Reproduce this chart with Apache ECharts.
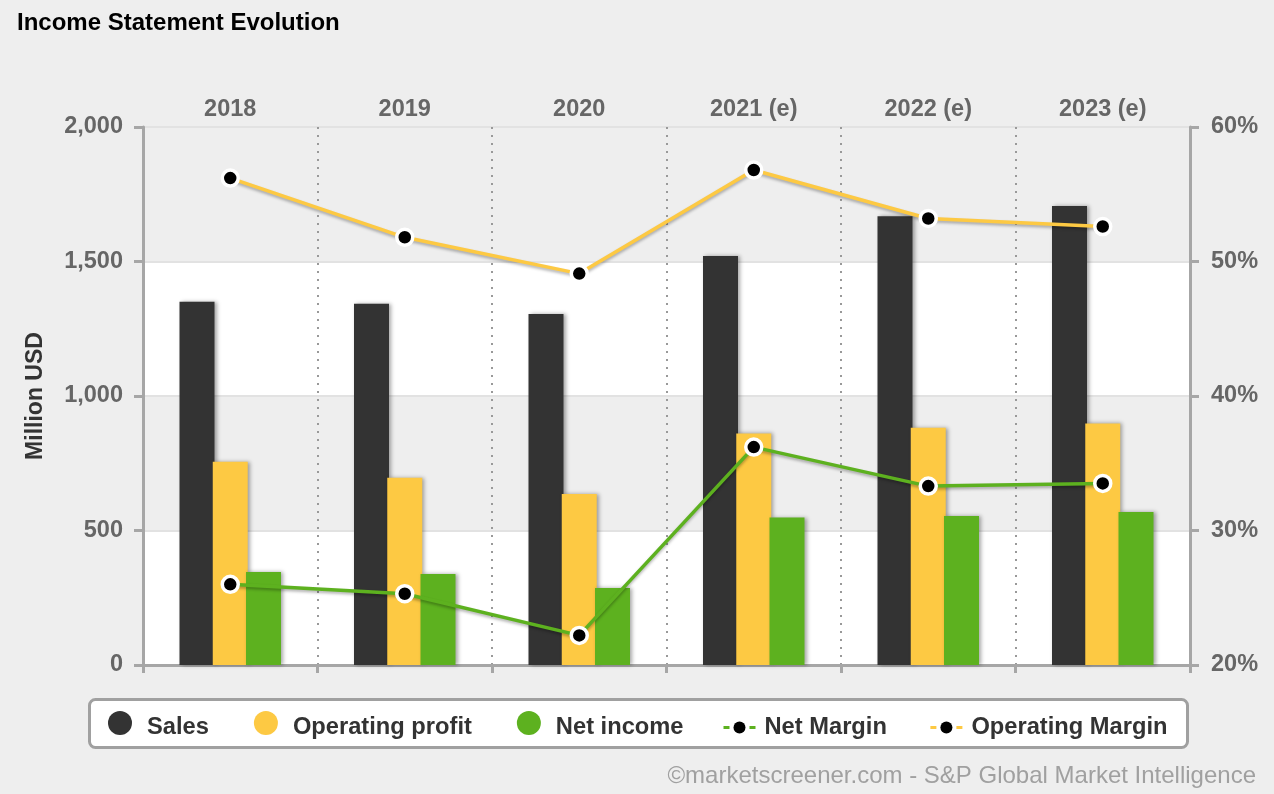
<!DOCTYPE html>
<html>
<head>
<meta charset="utf-8">
<script src="https://cdn.jsdelivr.net/npm/echarts@6/dist/echarts.min.js"></script>
<style>
html,body{margin:0;padding:0;background:#eeeeee;}
#c{width:1274px;height:794px;}
</style>
</head>
<body>
<div id="c"></div>
<script>
const categories = ['2018', '2019', '2020', '2021 (e)', '2022 (e)', '2023 (e)'];
const sales = [1350, 1343, 1305, 1520, 1668, 1706];
const operatingProfit = [756, 696, 636, 861, 882, 898];
const netIncome = [346, 338, 286, 548, 554, 569];
const netMargin = [26.0, 25.3, 22.2, 36.2, 33.3, 33.5];
const operatingMargin = [56.2, 51.8, 49.1, 56.8, 53.2, 52.6];
const leftTicks = { min: 0, max: 2000, interval: 500 };
const rightTicks = { min: 20, max: 60, interval: 10 };

const FONT = '"Liberation Sans", Arial, sans-serif';
const C_SALES = '#333333', C_OP = '#fdc943', C_NET = '#5db11f';
const barShadow = { shadowColor: 'rgba(0,0,0,0.35)', shadowBlur: 4, shadowOffsetX: 2, shadowOffsetY: 0 };
const legendText = { fontFamily: FONT, fontWeight: 'bold', fontSize: 23.7, color: '#333' };

const chart = echarts.init(document.getElementById('c'), null, { renderer: 'canvas' });
chart.setOption({
  backgroundColor: '#eeeeee',
  animation: false,
  title: {
    text: 'Income Statement Evolution', left: 12, top: 6,
    textStyle: { fontFamily: FONT, fontWeight: 'bold', fontSize: 24, color: '#000' }
  },
  grid: { left: 143, right: 84, top: 127, bottom: 129 },
  legend: [
    {
      left: 108, top: 711, padding: 0, itemGap: 45, itemWidth: 24, itemHeight: 24,
      formatter: '{t|{name}}',
      textStyle: Object.assign({
        rich: { t: Object.assign({ padding: [9, 0, 0, 10] }, legendText) }
      }, legendText),
      data: [
        { name: 'Sales', icon: 'circle' },
        { name: 'Operating profit', icon: 'circle' },
        { name: 'Net income', icon: 'circle' }
      ]
    },
    {
      left: 722, top: 715.5, padding: 0, itemGap: 42, itemWidth: 32, itemHeight: 15,
      textStyle: Object.assign({ padding: [0, 0, 0, 4] }, legendText),
      data: [
        { name: 'Net Margin', itemStyle: { borderWidth: 0, color: '#000' }, lineStyle: { type: [6, 20], width: 3 } },
        { name: 'Operating Margin', itemStyle: { borderWidth: 0, color: '#000' }, lineStyle: { type: [6, 20], width: 3 } }
      ]
    }
  ],
  xAxis: [
    {
      type: 'category', data: categories, position: 'top',
      axisLine: { show: true, lineStyle: { color: '#a6a6a6', width: 3 } },
      axisTick: { show: false },
      axisLabel: { fontFamily: FONT, fontWeight: 'bold', fontSize: 23.5, color: '#666', margin: 5 },
      splitLine: { show: true, lineStyle: { color: '#999', type: [2, 6], width: 2 } }
    },
    {
      type: 'category', data: categories, position: 'bottom',
      axisLine: { show: true, lineStyle: { color: '#a6a6a6', width: 3 } },
      axisTick: { show: true, length: 8, lineStyle: { color: '#a6a6a6', width: 3 } },
      axisLabel: { show: false }
    }
  ],
  yAxis: [
    {
      type: 'value', min: leftTicks.min, max: leftTicks.max, interval: leftTicks.interval,
      name: 'Million USD', nameLocation: 'middle', nameRotate: 90, nameGap: 96,
      nameTextStyle: { fontFamily: FONT, fontWeight: 'bold', fontSize: 23, color: '#333' },
      axisLine: { show: true, lineStyle: { color: '#a6a6a6', width: 3 } },
      axisTick: { show: true, length: 9, lineStyle: { color: '#a6a6a6', width: 3 } },
      axisLabel: {
        fontFamily: FONT, fontWeight: 'bold', fontSize: 23.5, color: '#666', margin: 20,
        formatter: v => v.toLocaleString('en-US')
      },
      splitLine: { show: true, lineStyle: { color: '#e2e2e2', width: 2 } },
      splitArea: { show: true, areaStyle: { color: ['#ffffff', '#eeeeee'] } }
    },
    {
      type: 'value', min: rightTicks.min, max: rightTicks.max, interval: rightTicks.interval,
      position: 'right',
      axisLine: { show: true, lineStyle: { color: '#a6a6a6', width: 3 } },
      axisTick: { show: true, length: 9, lineStyle: { color: '#a6a6a6', width: 3 } },
      axisLabel: { fontFamily: FONT, fontWeight: 'bold', fontSize: 23.5, color: '#666', margin: 21, formatter: '{value}%' },
      splitLine: { show: false }
    }
  ],
  series: [
    { name: 'Sales', type: 'bar', data: sales, barWidth: 35, barGap: '-5%',
      itemStyle: Object.assign({ color: C_SALES }, barShadow) },
    { name: 'Operating profit', type: 'bar', data: operatingProfit, barWidth: 35, barGap: '-5%',
      itemStyle: Object.assign({ color: C_OP }, barShadow) },
    { name: 'Net income', type: 'bar', data: netIncome, barWidth: 35, barGap: '-5%',
      itemStyle: Object.assign({ color: C_NET }, barShadow) },
    { name: 'Net Margin', type: 'line', yAxisIndex: 1, data: netMargin,
      symbol: 'circle', symbolSize: 16, z: 5,
      lineStyle: { color: C_NET, width: 3.5, shadowColor: 'rgba(0,0,0,0.3)', shadowBlur: 3, shadowOffsetY: 2 },
      itemStyle: { color: '#000', borderColor: '#fff', borderWidth: 3.5 } },
    { name: 'Operating Margin', type: 'line', yAxisIndex: 1, data: operatingMargin,
      symbol: 'circle', symbolSize: 16, z: 5,
      lineStyle: { color: C_OP, width: 3.5, shadowColor: 'rgba(0,0,0,0.3)', shadowBlur: 3, shadowOffsetY: 2 },
      itemStyle: { color: '#000', borderColor: '#fff', borderWidth: 3.5 } }
  ],
  graphic: [
    { type: 'rect', left: 88, top: 698, z: -1,
      shape: { width: 1098, height: 48, r: 6 },
      style: { fill: '#ffffff', stroke: '#a0a0a0', lineWidth: 3 } },
    { type: 'text', right: 18, top: 764,
      style: { text: '©marketscreener.com - S&P Global Market Intelligence', fontFamily: FONT, fontSize: 24, fill: '#a0a0a0' } }
  ]
});
</script>
</body>
</html>
